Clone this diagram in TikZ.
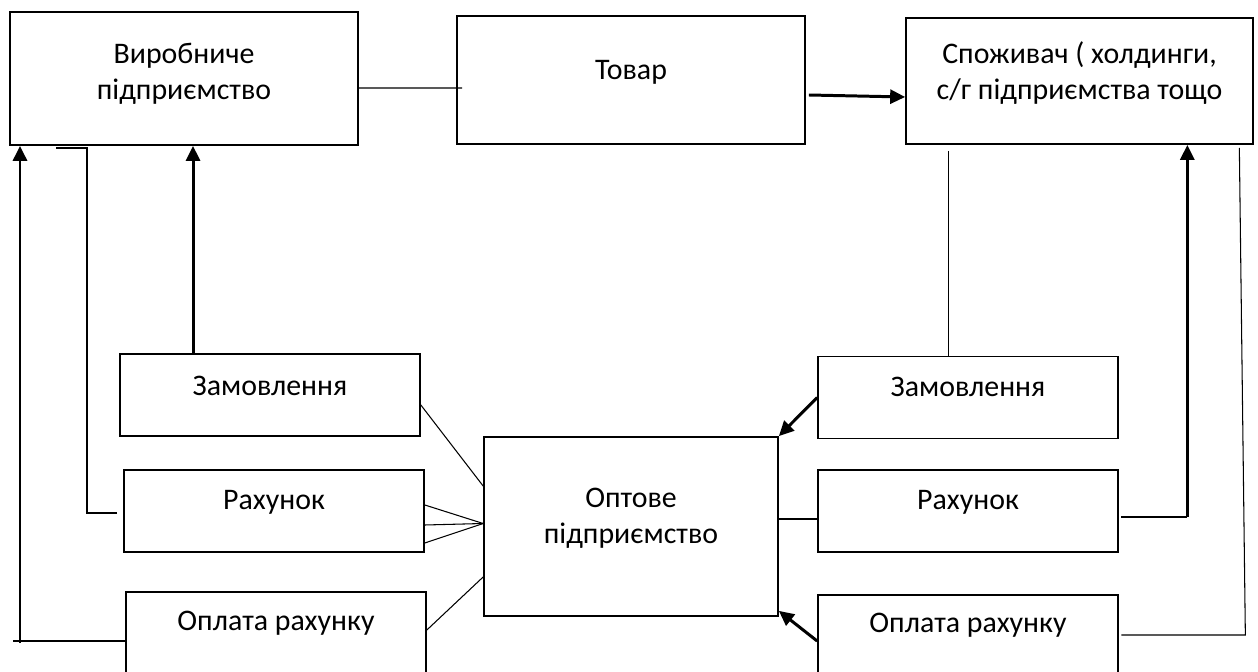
\documentclass[tikz,border=0pt]{standalone}
\usepackage{fontspec}
\setmainfont{Carlito}
\usetikzlibrary{arrows.meta}

\tikzset{
  box/.style={draw, line width=1pt, inner sep=0pt},
  lbl/.style={font=\fontsize{17}{20.5}\selectfont, align=center},
  thinline/.style={line width=0.6pt},
  postarrow/.style={line width=1.7pt, -{Triangle[length=0.3cm,width=0.28cm]}}
}

\begin{document}
\begin{tikzpicture}[x=0.02cm,y=-0.02cm]
		\useasboundingbox (0,0) rectangle (1258,672);
		% top row
		\node[box, minimum width=6.96cm, minimum height=2.66cm,
			label={[lbl,yshift=0.1cm]center:Виробниче\\підприємство}] (vyr) at (184,78.5) {};
		\node[box, minimum width=6.96cm, minimum height=2.56cm,
			label={[lbl,yshift=0.15cm]center:Товар}] (tov) at (631,80) {};
		\node[box, minimum width=6.94cm, minimum height=2.52cm,
			label={[lbl,yshift=0.15cm]center:Споживач ( холдинги,\\с/г підприємства тощо}] (spoz) at (1079.5,81) {};
		% left column
		\node[box, minimum width=6cm, minimum height=1.64cm,
			label={[lbl,yshift=0.19cm]center:Замовлення}] (zamL) at (270,395) {};
		\node[box, minimum width=6cm, minimum height=1.64cm,
			label={[lbl,yshift=0.17cm]center:Рахунок}] (rahL) at (274,511) {};
		\node[box, minimum width=6cm, minimum height=1.64cm,
			label={[lbl,yshift=0.19cm]center:Оплата рахунку}] (oplL) at (276,633) {};
		% middle
		\node[box, minimum width=5.88cm, minimum height=3.58cm,
			label={[lbl,yshift=0.17cm]center:Оптове\\підприємство}] (opt) at (631,526.5) {};
		% right column
		\node[box, minimum width=6cm, minimum height=1.64cm,
			label={[lbl,yshift=0.21cm]center:Замовлення}] (zamR) at (968,397.5) {};
		\node[box, minimum width=6cm, minimum height=1.64cm,
			label={[lbl,yshift=0.17cm]center:Рахунок}] (rahR) at (968,511) {};
		\node[box, minimum width=6cm, minimum height=1.64cm,
			label={[lbl,yshift=0.21cm]center:Оплата рахунку}] (oplR) at (968,636) {};

		% top connections
		\draw[thinline] ([yshift=-0.19cm]vyr.east) -- ([xshift=0.12cm,yshift=-0.16cm]tov.west);
		\draw[postarrow] ([xshift=0.06cm,yshift=-0.3cm]tov.east) -- ([yshift=-0.32cm]spoz.west);

		% left side
		\draw[postarrow] ([xshift=-1.54cm]zamL.north) -- ([xshift=-1.54cm]zamL.north |- vyr.south);
		\draw[thinline] ([xshift=-0.12cm,yshift=-0.04cm]rahL.west) -| (87,148) -- ++(-31,0);
		\draw[thinline] ([yshift=-0.16cm]oplL.west) -- ++(-112,0);
		\coordinate (lb) at (20,643);
		\draw[postarrow] (lb) -- (lb |- vyr.south);
		%\draw[thinline] (zamL.east) -- (opt.west);
		\draw[thinline] ([yshift=-0.2cm]zamL.east) -- ([yshift=0.81cm]opt.west);
		\foreach \s in {0.12,-0.28,-0.64}
			\draw[thinline] ([yshift=\s cm]rahL.east) -- ([yshift=0.06cm]opt.west);
		\draw[thinline] ([yshift=0.06cm]oplL.east) -- ([yshift=-1.01cm]opt.west);

		% right side
		\draw[thinline] ([xshift=-2.63cm,yshift=-0.12cm]spoz.south) -- ([xshift=-2.63cm]spoz.south |- zamR.north);
		\draw[postarrow] (zamR.west) -- (opt.north east);
		\draw[thinline] ([yshift=-0.16cm]rahR.west) -- ([yshift=-0.16cm]rahR.west -| opt.east);
		\draw[postarrow] ([yshift=-0.1cm]oplR.west) -- ([yshift=0.12cm]opt.south east);
		\draw[thinline] ([xshift=0.05cm,yshift=-0.12cm]rahR.east) -- ++(66,0) coordinate (rr);
		\draw[postarrow] (rr) -- (rr |- spoz.south);
		\draw[thinline] ([xshift=0.05cm,yshift=0.02cm]oplR.east) -- ++(124,0) -- ++(-6,-487);
	\end{tikzpicture}
\end{document}
